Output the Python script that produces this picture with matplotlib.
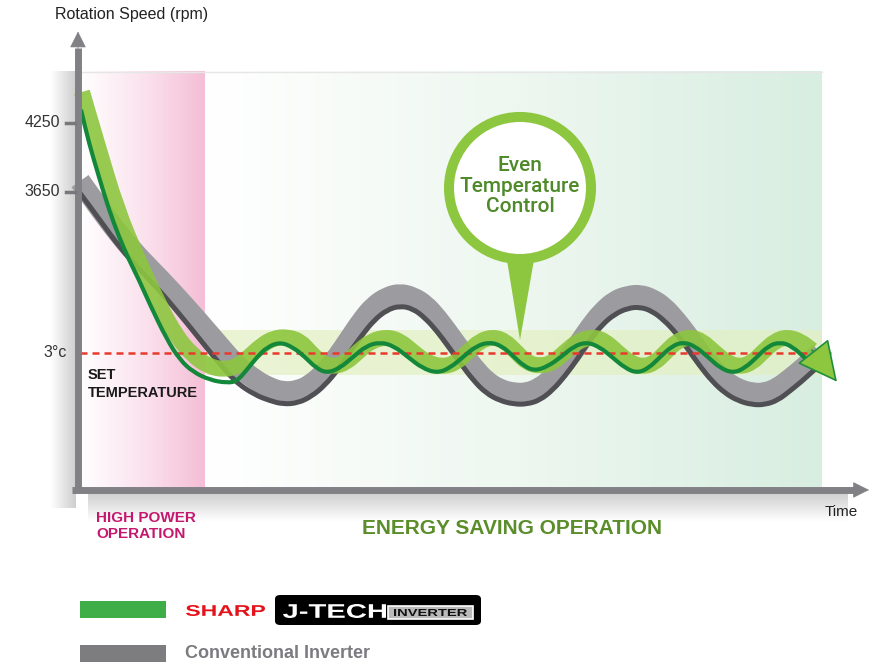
import numpy as np
import matplotlib.pyplot as plt
from matplotlib.colors import LinearSegmentedColormap
from matplotlib.patches import Ellipse, Polygon, Rectangle, FancyBboxPatch, PathPatch
from matplotlib.path import Path
from matplotlib.textpath import TextPath
from matplotlib.font_manager import FontProperties
from matplotlib.transforms import Affine2D, IdentityTransform

plt.rcParams['font.family'] = ['Liberation Sans', 'DejaVu Sans']

# phases along the time axis
high_power_end = 127
energy_saving_end = 744
chart_top_rpm = 4694
chart_bottom_rpm = 1085

# set temperature and the "even" band around it
set_temp_rpm = 2250
band_low, band_high = 2060, 2450
rpm_ticks = [4250, 3650]

# SHARP J-TECH inverter: thin dark line
jtech_t = [3, 11, 21, 31, 41, 51, 61, 72, 89, 102,
           115, 132, 149, 159, 169, 179, 189, 202, 215, 227,
           238, 249, 262, 275, 288, 302, 316, 330, 344, 359,
           372, 385, 398, 412, 424, 435, 446, 457, 470, 483,
           496, 509, 522, 534, 547, 559, 571, 582, 594, 605,
           617, 630, 642, 655, 667, 679, 690, 702, 714, 729]
jtech_rpm = [4365, 4075, 3780, 3495, 3260, 3060, 2885, 2670, 2365, 2190,
             2085, 2015, 1990, 2005, 2105, 2215, 2300, 2345, 2300, 2215,
             2120, 2075, 2120, 2215, 2310, 2345, 2310, 2215, 2120, 2075,
             2120, 2215, 2310, 2345, 2310, 2225, 2135, 2095, 2135, 2215,
             2310, 2345, 2300, 2215, 2120, 2075, 2120, 2215, 2310, 2345,
             2310, 2215, 2120, 2075, 2120, 2215, 2310, 2345, 2310, 2190]

# SHARP J-TECH inverter: light ribbon (last point = arrow tip)
jtech_band_t = [4, 19, 39, 60, 81, 98, 114, 130, 146, 160,
                172, 184, 196, 209, 222, 232, 243, 255, 268, 280,
                293, 309, 322, 335, 349, 365, 378, 390, 402, 415,
                427, 438, 449, 462, 475, 487, 500, 515, 527, 539,
                552, 565, 577, 588, 599, 612, 624, 636, 649, 662,
                674, 685, 697, 709, 722, 734, 759]
jtech_band_rpm = [4520, 4075, 3495, 3060, 2670, 2400, 2235, 2135, 2105, 2135,
                  2225, 2320, 2380, 2390, 2355, 2260, 2165, 2130, 2165, 2260,
                  2355, 2390, 2355, 2260, 2165, 2130, 2165, 2260, 2355, 2390,
                  2355, 2260, 2165, 2135, 2165, 2260, 2355, 2390, 2355, 2260,
                  2165, 2130, 2165, 2260, 2355, 2390, 2355, 2260, 2165, 2130,
                  2165, 2260, 2355, 2390, 2355, 2275, 2000]

# conventional inverter ribbon
conv_t = [2, 22, 42, 62, 82, 109, 135, 157, 177, 192,
          205, 220, 234, 247, 260, 272, 284, 296, 309, 322,
          335, 347, 359, 371, 383, 395, 408, 422, 436, 449,
          462, 475, 487, 500, 512, 524, 537, 550, 562, 574,
          586, 598, 610, 622, 634, 647, 660, 674, 687, 700,
          712, 724, 734, 742]
conv_face_rpm = [3745, 3500, 3270, 3070, 2895, 2640, 2380, 2155, 2015, 1945,
                 1910, 1920, 1980, 2085, 2225, 2380, 2535, 2660, 2735, 2765,
                 2735, 2670, 2555, 2415, 2270, 2130, 2005, 1930, 1900, 1900,
                 1945, 2035, 2165, 2320, 2475, 2605, 2705, 2745, 2755, 2720,
                 2650, 2535, 2400, 2250, 2120, 2005, 1935, 1900, 1900, 1945,
                 2025, 2110, 2190, 2250]
conv_edge_rpm = [3640, 3405, 3165, 2970, 2790, 2510, 2225, 2000, 1885, 1835,
                 1805, 1815, 1875, 1970, 2105, 2260, 2405, 2535, 2625, 2660,
                 2635, 2555, 2440, 2300, 2155, 2015, 1900, 1835, 1805, 1805,
                 1840, 1930, 2050, 2205, 2365, 2495, 2590, 2640, 2650, 2615,
                 2535, 2425, 2285, 2135, 2005, 1900, 1835, 1800, 1800, 1840,
                 1920, 2005, 2085, 2145]

W, H = 887, 668
fig = plt.figure(figsize=(W / 100, H / 100), dpi=100)
ax = fig.add_axes([0, 0, 1, 1])


def fx(x):
    return x / W


def fy(y):
    return 1 - y / H


def smooth(t, v):
    # polyline with rounded corners (quadratic curves through segment midpoints)
    p = np.column_stack([t, v]).astype(float)
    mids = (p[:-1] + p[1:]) / 2
    verts = [p[0], mids[0]]
    codes = [Path.MOVETO, Path.LINETO]
    for i in range(1, len(p) - 1):
        verts += [p[i], mids[i]]
        codes += [Path.CURVE3, Path.CURVE3]
    verts.append(p[-1])
    codes.append(Path.LINETO)
    return Path(verts, codes)


def ribbon(t, v, color, lw, z, alpha=1.0):
    ax.add_patch(PathPatch(smooth(t, v), fc='none', ec=color, lw=lw, alpha=alpha,
                           capstyle='butt', joinstyle='round', zorder=z))


def word(text, x0, x1, ytop, ybot, color):
    tp = TextPath((0, 0), text, size=20, prop=FontProperties(family='Liberation Sans', weight='bold'))
    ext = tp.get_extents()
    tr = (Affine2D().translate(-ext.x0, -ext.y0)
          .scale((x1 - x0) / ext.width, (ybot - ytop) / ext.height)
          .translate(x0, H - ybot))
    fig.add_artist(PathPatch(tr.transform_path(tp), fc=color, ec='none',
                             transform=IdentityTransform()))


grad = np.linspace(0, 1, 256).reshape(1, -1)
pink = LinearSegmentedColormap.from_list('pink', ['#ffffff', '#fbe3ee', '#f5bed6'])
mint = LinearSegmentedColormap.from_list('mint', ['#ffffff', '#eef7f0', '#d8eee1'])
ax.imshow(grad, cmap=pink, aspect='auto', zorder=0,
          extent=(2, high_power_end, chart_bottom_rpm, chart_top_rpm))
ax.imshow(grad, cmap=mint, aspect='auto', zorder=0,
          extent=(high_power_end, energy_saving_end, chart_bottom_rpm, chart_top_rpm))

# soft shadows of the axes
shade = np.zeros((1, 64, 4))
shade[..., :3] = 0.45
shade[..., 3] = np.linspace(0, 0.35, 64)
ax.imshow(shade, aspect='auto', zorder=0, extent=(-28, -2, 900, 4700))
shade_v = np.zeros((64, 1, 4))
shade_v[..., :3] = 0.45
shade_v[..., 3] = np.linspace(0.35, 0, 64).reshape(-1, 1)
ax.imshow(shade_v, aspect='auto', zorder=0, extent=(10, 770, 780, 1040))

ax.plot([2, energy_saving_end], [chart_top_rpm, chart_top_rpm], color='#e6e6e6', lw=1, zorder=1)
ax.fill_between([high_power_end, energy_saving_end], band_low, band_high,
                color='#e3f0c2', alpha=0.7, lw=0, zorder=1)

# conventional inverter
ribbon(conv_t, conv_face_rpm, '#9c9ca0', 15, 2)
ribbon(conv_t, conv_edge_rpm, '#4f4f54', 3.6, 2.1)

# J-TECH ribbon
ribbon(jtech_band_t[:-1], jtech_band_rpm[:-1], '#8dc63f', 11.5, 3, alpha=0.9)
ax.annotate('', xy=(jtech_band_t[-1], jtech_band_rpm[-1]),
            xytext=(jtech_band_t[-2], jtech_band_rpm[-2]),
            arrowprops=dict(arrowstyle='-|>,head_length=1.0,head_width=0.5',
                            mutation_scale=26, fc='#8dc63f', ec='#1f8f3a', lw=1.2,
                            shrinkA=0, shrinkB=0), zorder=5)

ax.plot([2, 757], [set_temp_rpm, set_temp_rpm], color='#e8392c', lw=1.8,
        dashes=(2.8, 2), zorder=3.5)

ribbon(jtech_t, jtech_rpm, '#14883a', 3, 4)

# axes
axis_col = '#808085'
ax.plot([0, 0], [1059, 4900], color=axis_col, lw=5, solid_capstyle='butt', zorder=6)
ax.plot([-6, 776], [1059, 1059], color=axis_col, lw=5, solid_capstyle='butt', zorder=6)
ax.annotate('', xy=(0, 5045), xytext=(0, 4880),
            arrowprops=dict(arrowstyle='-|>,head_length=0.7,head_width=0.35',
                            mutation_scale=15, fc=axis_col, ec=axis_col, lw=0.5,
                            shrinkA=0, shrinkB=0), zorder=6)
ax.annotate('', xy=(791, 1059), xytext=(770, 1059),
            arrowprops=dict(arrowstyle='-|>,head_length=0.7,head_width=0.35',
                            mutation_scale=15, fc=axis_col, ec=axis_col, lw=0.5,
                            shrinkA=0, shrinkB=0), zorder=6)
for r in rpm_ticks:
    ax.plot([-12, -3], [r, r], color='#77777c', lw=2.5, zorder=6)
    ax.text(-18, r, str(r), ha='right', va='center', fontsize=11.5, color='#333333')
ax.text(-11, set_temp_rpm, '3°c', ha='right', va='center', fontsize=11.5, color='#333333')

# callout
ax.add_patch(Polygon([(428, 3110), (457, 3110), (442, 2363)], closed=True,
                     fc='#8dc63f', ec='none', zorder=7))
ax.add_patch(Ellipse((442, 3685), 142, 1235, fc='white', ec='#8dc63f', lw=7.2, zorder=7.5))
ax.text(442, 3700, 'Even\nTemperature\nControl', ha='center', va='center', fontsize=15,
        family=['Roboto', 'Liberation Sans'], weight='medium',
        color='#4f8a2a', linespacing=1.1, zorder=8)

ax.set_xlim(-78, 809)
ax.set_ylim(-489.3, 5319.6)
ax.axis('off')

# labels
fig.text(fx(55), fy(15), 'Rotation Speed (rpm)', ha='left', va='center', fontsize=11.5, color='#222222')
fig.text(fx(88), fy(368), 'SET\nTEMPERATURE', ha='left', va='top', fontsize=10.5,
         weight='bold', color='#1a1a1a', linespacing=1.37)
fig.text(fx(96), fy(511), 'HIGH POWER\nOPERATION', ha='left', va='top', fontsize=11,
         weight='bold', color='#c4186e', linespacing=1.18)
fig.text(fx(512), fy(529), 'ENERGY SAVING OPERATION', ha='center', va='center', fontsize=15,
         weight='bold', color='#5b8e2b')
fig.text(fx(825), fy(512), 'Time', ha='left', va='center', fontsize=11, color='#222222')

# legend
fig.add_artist(Rectangle((fx(80), fy(618)), 86 / W, 17 / H, transform=fig.transFigure,
                         fc='#3fae49', ec='none'))
fig.add_artist(Rectangle((fx(80), fy(662)), 86 / W, 17 / H, transform=fig.transFigure,
                         fc='#7d7d80', ec='none'))
word('SHARP', 186, 265, 605, 616, '#e4121a')
fig.add_artist(FancyBboxPatch((fx(275), fy(625)), 206 / W, 30 / H, transform=fig.transFigure,
                              boxstyle='round,pad=0,rounding_size=0.006', fc='black', ec='none'))
word('J-TECH', 283, 386, 604, 618, 'white')
fig.add_artist(Rectangle((fx(388), fy(619)), 85 / W, 13 / H, transform=fig.transFigure,
                         fc='#bababa', ec='white', lw=1.2))
word('INVERTER', 394, 467, 609, 616, '#111111')
fig.text(fx(185), fy(654), 'Conventional Inverter', ha='left', va='center', fontsize=13,
         weight='bold', color='#7b7b80')

fig.savefig('out.png', dpi=100)
